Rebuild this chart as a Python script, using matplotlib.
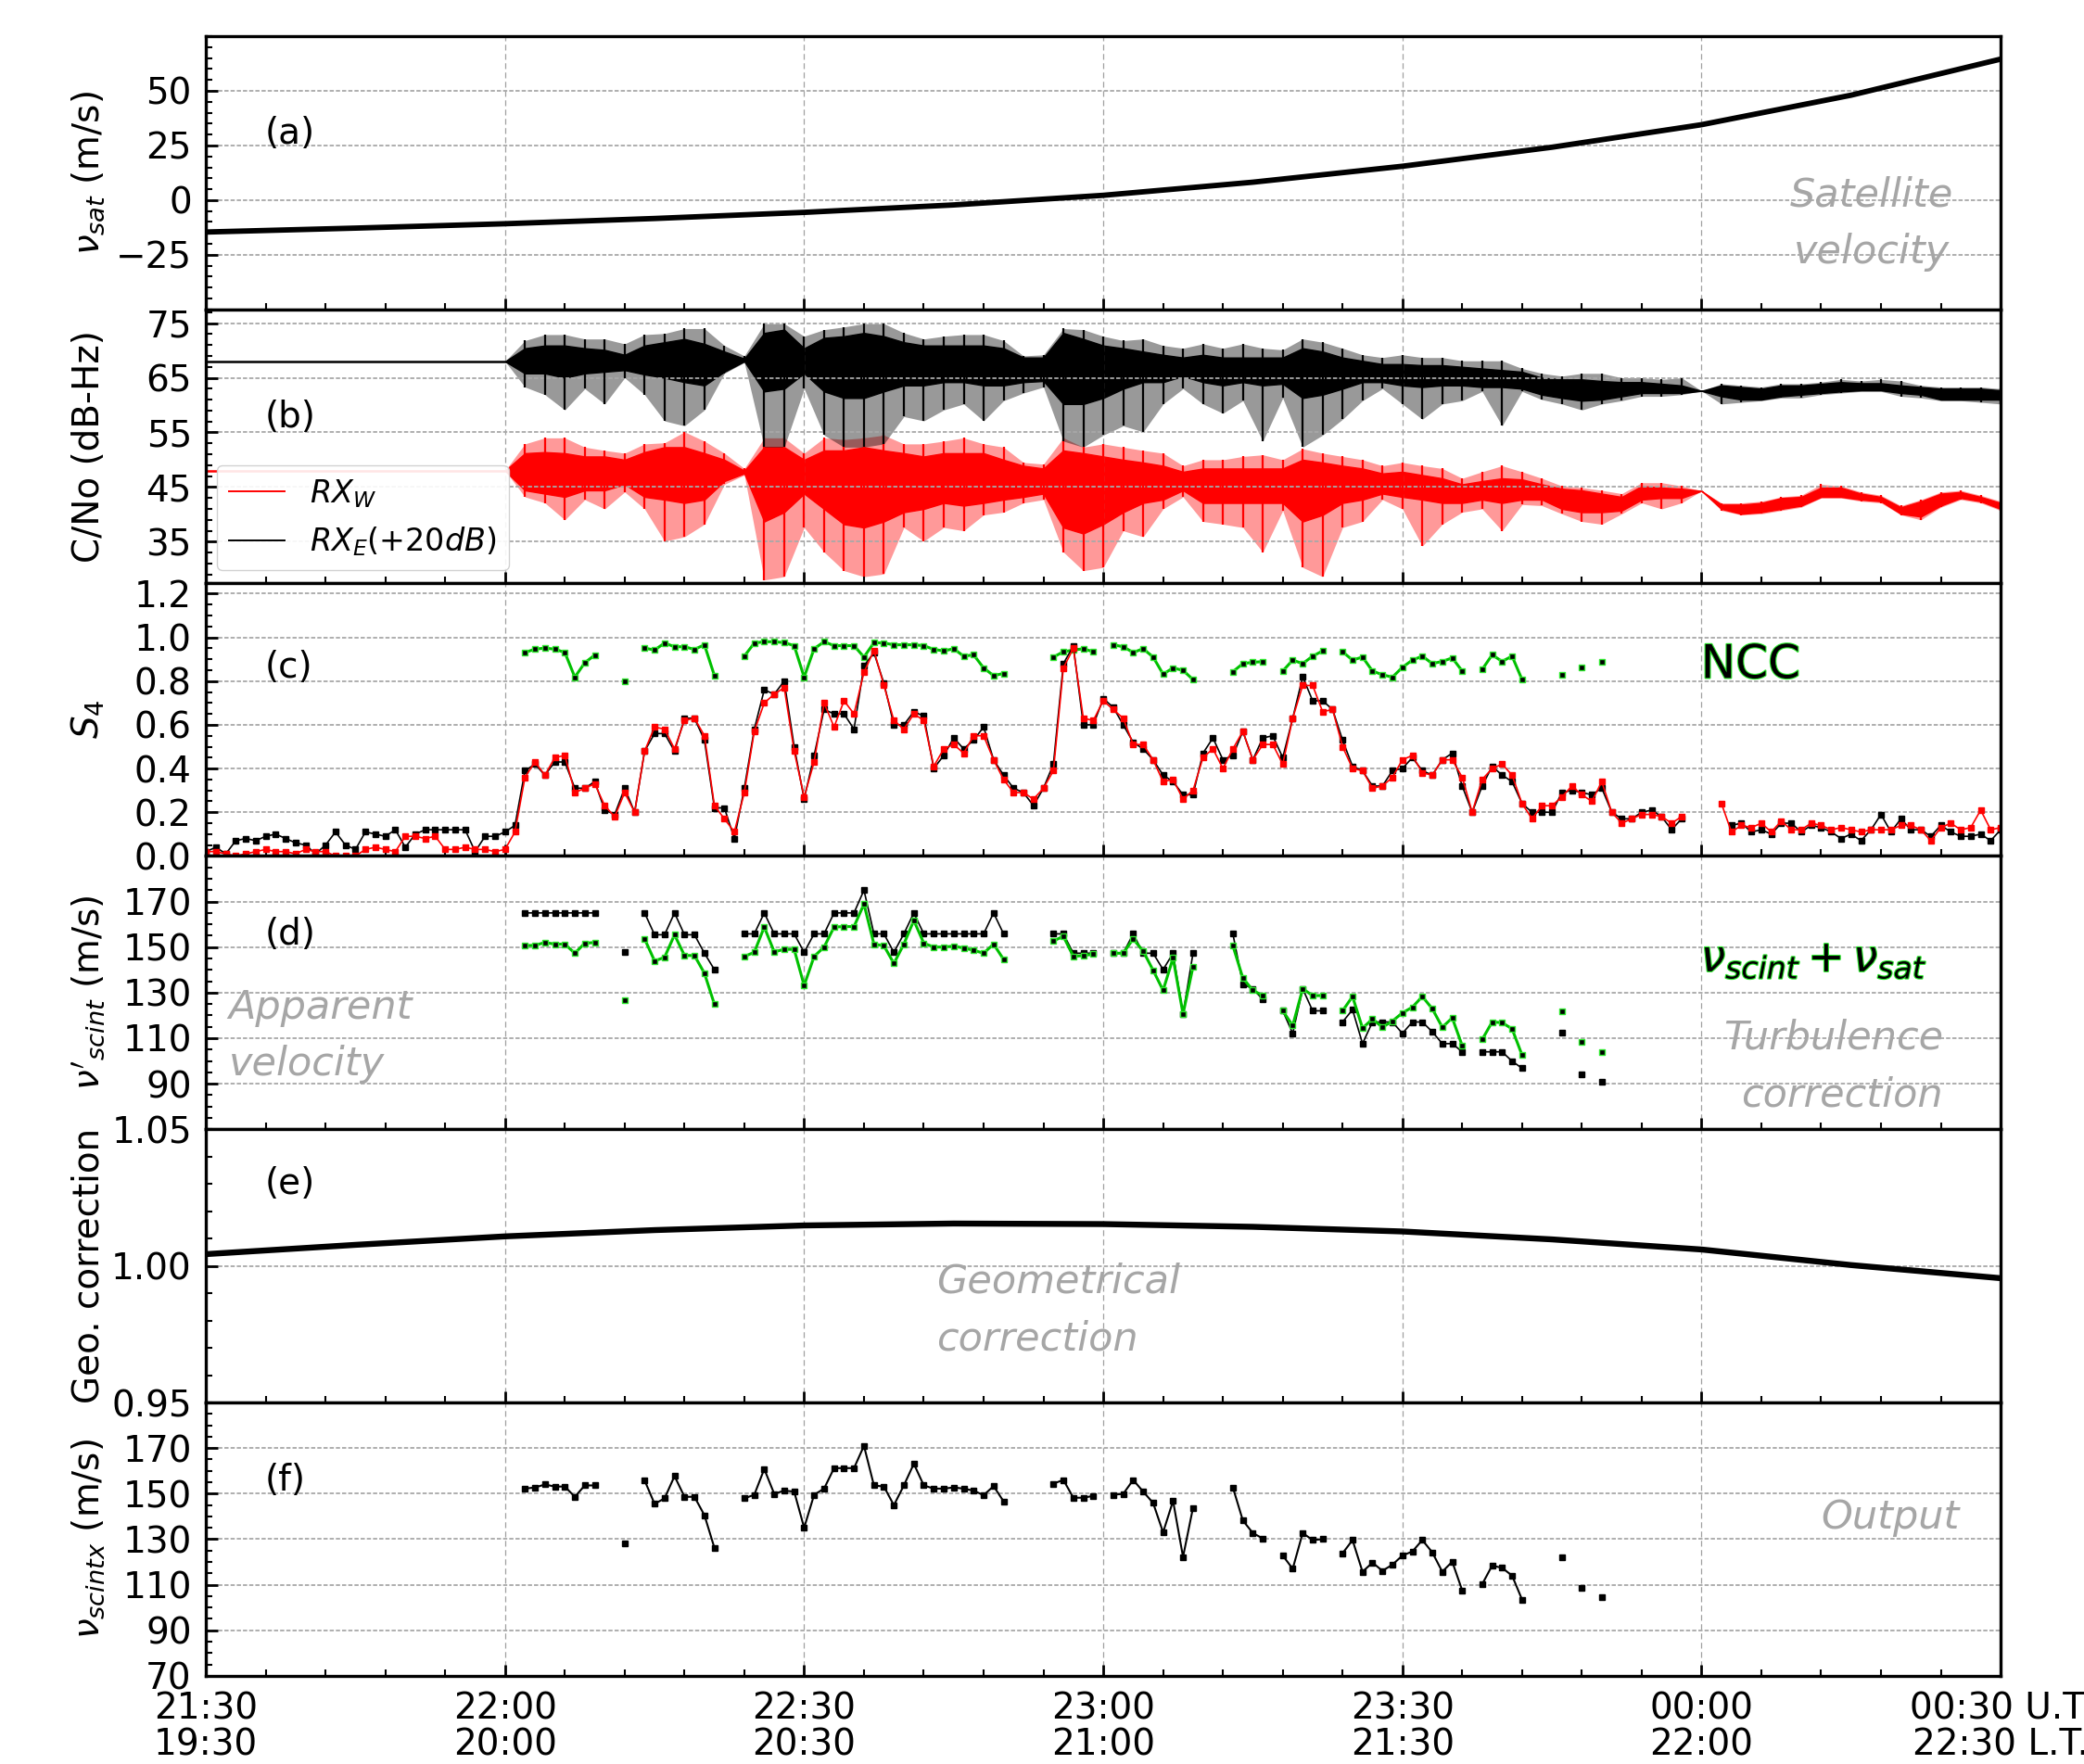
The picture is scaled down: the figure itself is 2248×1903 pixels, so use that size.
import numpy as np
import matplotlib
matplotlib.use("Agg")
import matplotlib.pyplot as plt
from matplotlib.ticker import MultipleLocator, AutoMinorLocator, FormatStrFormatter
import matplotlib.patheffects as pe

nan = np.nan

# ---------------- data (time = minutes after 21:30 UT) ----------------
xtick_labels = ['21:30\n19:30', '22:00\n20:00', '22:30\n20:30', '23:00\n21:00',
                '23:30\n21:30', '00:00\n22:00', '00:30 U.T.\n22:30 L.T.']

# (a) satellite velocity
vsat_t = [0, 15, 30, 45, 60, 75, 90, 105, 120, 135, 150, 165, 180]
vsat = [-14.6, -12.8, -10.8, -8.4, -5.6, -2.2, 2.2, 8.2, 15.5, 24.2, 34.5, 48.0, 64.5]

# (b) C/No envelopes, sampled every 2 min from 30 to 180
cn_t = np.arange(30, 181, 2)
quiet_t = [0, 30]
quiet_E = [68.0, 68.0]
quiet_W = [48.0, 48.0]
E_hi = [68.0, 71.8, 72.9, 72.9, 72.1, 72.1, 71.2, 72.9, 73.1, 74.0, 74.0, 70.9, 69.0, 74.9, 74.9, 72.6,
        73.8, 74.3, 74.9, 74.9, 73.2, 72.1, 72.6, 72.9, 72.9, 71.8, 69.0, 69.2, 74.0, 73.8, 72.6, 71.8,
        72.1, 70.9, 70.4, 71.2, 70.4, 71.2, 70.4, 70.1, 72.1, 71.5, 70.4, 69.2, 68.7, 69.2, 68.7, 68.7,
        68.1, 68.1, 68.1, 66.7, 65.8, 65.3, 65.8, 65.8, 65.0, 65.0, 64.7, 65.0, 62.6,
        63.9, 63.6, 63.3, 63.9, 63.9, 64.2, 64.7, 64.4, 64.7, 64.4, 63.6, 63.3, 63.3, 63.3, 63.0]
E_chi = [68.0, 70.4, 70.9, 70.9, 70.4, 70.1, 69.2, 70.9, 71.5, 72.1, 71.2, 69.8, 68.5, 73.2, 73.8, 70.4,
         72.3, 72.6, 73.2, 72.6, 71.5, 70.9, 70.9, 70.9, 70.9, 70.4, 68.7, 68.7, 73.2, 72.1, 70.9, 70.4,
         69.8, 69.2, 68.7, 69.2, 68.7, 68.7, 68.7, 68.7, 70.4, 69.8, 68.7, 68.1, 67.5, 67.5, 67.3, 67.3,
         67.0, 66.7, 66.4, 66.1, 65.0, 64.7, 64.7, 64.4, 64.2, 64.2, 63.9, 63.6, 62.6,
         63.6, 63.3, 63.0, 63.6, 63.6, 63.9, 64.2, 64.0, 64.0, 63.6, 63.3, 63.0, 63.0, 63.0, 62.7]
E_clo = [68.0, 65.8, 65.8, 65.0, 65.8, 66.1, 66.4, 65.6, 65.0, 64.2, 63.6, 66.1, 68.0, 62.5, 63.0, 65.8,
         62.5, 61.3, 61.3, 62.5, 63.6, 63.6, 64.2, 64.2, 63.6, 63.6, 64.2, 64.4, 60.2, 60.2, 61.3, 63.0,
         64.2, 64.2, 65.3, 64.2, 63.6, 64.2, 63.6, 63.9, 61.3, 61.9, 63.0, 64.2, 64.2, 63.6, 63.3, 63.6,
         63.6, 63.3, 63.3, 63.0, 61.9, 61.3, 60.8, 61.0, 61.6, 62.2, 62.2, 62.2, 62.6,
         61.6, 61.0, 61.0, 61.6, 61.9, 62.2, 62.5, 62.7, 62.7, 62.2, 61.9, 61.0, 61.0, 61.0, 61.0]
E_lo = [68.0, 63.3, 61.9, 59.1, 63.0, 60.2, 65.0, 61.9, 57.1, 56.2, 59.1, 65.8, 67.8, 52.3, 52.3, 63.0,
        54.5, 52.3, 52.3, 52.9, 57.9, 57.1, 59.1, 60.2, 57.1, 60.8, 62.2, 63.3, 53.4, 52.3, 54.5, 56.2,
        55.1, 60.2, 63.0, 60.2, 58.5, 60.8, 53.4, 61.3, 52.3, 54.5, 57.4, 60.8, 63.0, 60.2, 57.4, 60.2,
        60.8, 62.5, 56.2, 62.5, 61.0, 60.2, 59.1, 60.2, 60.8, 61.6, 61.6, 61.9, 62.6,
        60.2, 60.5, 60.8, 61.3, 61.3, 61.9, 62.2, 62.5, 62.5, 61.6, 61.3, 60.8, 60.8, 60.5, 60.2]
W_hi = [48.0, 52.9, 54.0, 54.0, 52.3, 51.7, 51.2, 52.9, 53.1, 55.1, 53.4, 51.2, 48.4, 54.0, 54.0, 51.2,
        54.0, 53.7, 54.0, 54.5, 52.9, 52.9, 53.4, 54.0, 52.9, 52.3, 49.5, 49.2, 54.0, 52.3, 52.9, 52.3,
        51.7, 51.2, 48.9, 50.0, 50.0, 50.6, 50.9, 50.0, 52.0, 51.2, 50.6, 50.0, 48.9, 49.5, 48.9, 48.4,
        46.6, 47.8, 48.9, 47.8, 46.6, 45.2, 44.9, 44.4, 43.8, 45.8, 45.8, 45.2, 44.3,
        42.1, 42.1, 42.4, 43.2, 43.5, 45.5, 45.2, 44.1, 43.5, 41.6, 42.7, 44.1, 44.4, 43.5, 42.4]
W_chi = [48.0, 51.2, 51.4, 51.2, 50.6, 50.6, 50.0, 51.4, 52.3, 52.3, 51.2, 50.0, 48.0, 52.3, 52.3, 50.0,
         51.7, 51.7, 52.3, 51.7, 51.2, 50.6, 51.2, 51.2, 51.2, 50.0, 48.9, 48.4, 51.7, 51.2, 50.6, 50.0,
         49.5, 48.9, 47.8, 48.4, 48.4, 48.4, 48.4, 48.4, 50.0, 49.5, 48.9, 48.4, 47.5, 47.8, 47.2, 46.6,
         45.5, 46.1, 46.6, 46.4, 45.5, 44.7, 44.4, 43.8, 43.2, 45.2, 44.9, 44.7, 44.3,
         41.8, 41.8, 42.1, 43.0, 43.2, 44.9, 44.9, 43.8, 43.2, 41.3, 42.4, 43.8, 44.1, 43.2, 42.1]
W_clo = [48.0, 44.4, 43.8, 43.2, 44.4, 44.4, 45.5, 43.2, 42.7, 42.1, 42.7, 46.1, 47.5, 38.7, 40.4, 43.8,
         41.0, 38.2, 37.6, 38.7, 40.4, 41.0, 42.1, 41.6, 42.1, 42.7, 43.2, 43.8, 37.6, 36.5, 38.2, 40.4,
         42.1, 42.7, 44.4, 42.1, 42.1, 42.1, 42.1, 42.1, 38.7, 39.9, 42.1, 42.7, 43.8, 43.2, 42.7, 42.1,
         42.1, 42.7, 42.1, 42.7, 42.7, 41.0, 40.4, 40.4, 40.7, 42.7, 43.0, 43.0, 44.3,
         41.0, 40.1, 40.4, 41.0, 41.6, 43.2, 43.2, 42.7, 42.4, 40.1, 39.6, 41.6, 43.0, 42.4, 41.0]
W_lo = [48.0, 43.2, 42.1, 39.0, 42.7, 41.0, 44.1, 41.0, 35.1, 35.9, 38.2, 45.5, 47.2, 28.0, 28.6, 37.6,
        33.1, 29.7, 28.6, 29.1, 37.6, 35.1, 37.6, 37.0, 39.9, 40.4, 42.1, 42.7, 33.1, 29.7, 30.3, 37.0,
        35.9, 41.0, 43.2, 38.7, 38.2, 37.6, 33.1, 40.7, 30.3, 28.6, 37.6, 38.7, 42.7, 41.0, 34.2, 38.2,
        40.4, 41.0, 37.0, 41.8, 41.6, 40.1, 38.7, 38.2, 40.1, 42.1, 41.0, 42.1, 44.3,
        40.7, 39.9, 40.1, 40.7, 41.3, 43.0, 43.0, 42.4, 42.1, 39.9, 39.0, 41.3, 42.7, 42.1, 40.7]

# (c) S4 every minute, 0..180
s4_t = np.arange(0, 181)
s4_E = [0.02, 0.04, 0.01, 0.07, 0.08, 0.07, 0.09, 0.10, 0.08, 0.06, 0.05, 0.01, 0.05, 0.11, 0.05, 0.03,
        0.11, 0.10, 0.09, 0.12, 0.04, 0.10, 0.12, 0.12, 0.12, 0.12, 0.12, 0.02, 0.09, 0.09, 0.11, 0.14,
        0.39, 0.42, 0.37, 0.43, 0.43, 0.31, 0.31, 0.34, 0.21, 0.19, 0.31, 0.20, 0.48, 0.56, 0.56, 0.48,
        0.63, 0.63, 0.53, 0.22, 0.22, 0.08, 0.31, 0.58, 0.76, 0.74, 0.80, 0.50, 0.26, 0.46,
        0.67, 0.65, 0.65, 0.58, 0.87, 0.93, 0.79, 0.60, 0.60, 0.66, 0.64, 0.40, 0.46, 0.54, 0.49, 0.53,
        0.59, 0.44, 0.37, 0.31, 0.29, 0.23, 0.31, 0.42, 0.88, 0.96, 0.60, 0.60, 0.72,
        0.68, 0.60, 0.52, 0.49, 0.44, 0.37, 0.34, 0.28, 0.28, 0.47, 0.54, 0.44, 0.46, 0.57, 0.44, 0.54,
        0.55, 0.45, 0.63, 0.82, 0.71, 0.71, 0.67, 0.53, 0.41, 0.39, 0.32, 0.32, 0.39, 0.40, 0.45, 0.39,
        0.37, 0.44, 0.47, 0.32, 0.20, 0.32, 0.41, 0.37, 0.34, 0.24, 0.20, 0.20, 0.20, 0.29, 0.30, 0.29,
        0.28, 0.31, 0.20, 0.17, 0.17, 0.20, 0.21, 0.18, 0.12, 0.17,
        nan, nan, nan, nan,
        0.14, 0.15, 0.11, 0.12, 0.10, 0.15, 0.15, 0.11, 0.14, 0.13, 0.11, 0.08, 0.10, 0.07, 0.12, 0.19,
        0.11, 0.17, 0.12, 0.12, 0.09, 0.14, 0.11, 0.09, 0.09, 0.10, 0.07, 0.12]
s4_W = [0.02, 0.02, 0.01, 0.00, 0.01, 0.02, 0.03, 0.02, 0.02, 0.01, 0.03, 0.02, 0.02, 0.00, 0.00, 0.00,
        0.03, 0.04, 0.03, 0.02, 0.09, 0.09, 0.08, 0.09, 0.03, 0.03, 0.04, 0.03, 0.03, 0.02, 0.03, 0.11,
        0.36, 0.43, 0.37, 0.45, 0.46, 0.29, 0.31, 0.33, 0.23, 0.18, 0.29, 0.20, 0.48, 0.59, 0.58, 0.49,
        0.62, 0.63, 0.55, 0.23, 0.17, 0.11, 0.29, 0.57, 0.70, 0.74, 0.77, 0.48, 0.27, 0.43,
        0.70, 0.59, 0.71, 0.65, 0.84, 0.94, 0.78, 0.62, 0.58, 0.65, 0.62, 0.41, 0.49, 0.51, 0.47, 0.55,
        0.55, 0.44, 0.35, 0.29, 0.29, 0.26, 0.31, 0.39, 0.86, 0.95, 0.63, 0.62, 0.71,
        0.67, 0.63, 0.51, 0.51, 0.44, 0.34, 0.35, 0.26, 0.30, 0.45, 0.49, 0.40, 0.49, 0.57, 0.44, 0.51,
        0.51, 0.42, 0.63, 0.78, 0.78, 0.66, 0.67, 0.50, 0.40, 0.39, 0.31, 0.32, 0.36, 0.44, 0.46, 0.38,
        0.37, 0.44, 0.44, 0.36, 0.20, 0.35, 0.40, 0.42, 0.37, 0.24, 0.17, 0.23, 0.23, 0.27, 0.32, 0.28,
        0.25, 0.34, 0.20, 0.15, 0.17, 0.19, 0.19, 0.18, 0.15, 0.18,
        nan, nan, nan, 0.24,
        0.11, 0.14, 0.13, 0.15, 0.11, 0.16, 0.12, 0.12, 0.15, 0.14, 0.12, 0.13, 0.12, 0.11, 0.12, 0.12,
        0.12, 0.14, 0.14, 0.12, 0.07, 0.13, 0.15, 0.12, 0.13, 0.21, 0.12, 0.13]

# (c)-(f) per-minute values from 32 to 140 min
v_t = np.arange(32, 141)
ncc = [0.931, 0.946, 0.951, 0.946, 0.931, 0.818, 0.884, 0.919,
       nan, nan, 0.80, nan,
       0.951, 0.942, 0.974, 0.957, 0.957, 0.945, 0.966, 0.825,
       nan, nan,
       0.914, 0.974, 0.98, 0.98, 0.976, 0.962, 0.818, 0.948, 0.98, 0.962, 0.962, 0.962, 0.91, 0.976,
       0.974, 0.966, 0.966, 0.966, 0.962, 0.945, 0.938, 0.948, 0.914, 0.92, 0.86, 0.825, 0.835,
       nan, nan, nan, nan,
       0.91, 0.934, 0.942, 0.948, 0.934,
       nan,
       0.966, 0.957, 0.931, 0.948, 0.91, 0.832, 0.86, 0.849, 0.807,
       nan, nan, nan,
       0.843, 0.88, 0.886, 0.889,
       nan,
       0.846, 0.896, 0.88, 0.914, 0.938,
       nan,
       0.934, 0.896, 0.91, 0.846, 0.829, 0.818, 0.863, 0.896, 0.914, 0.88, 0.89, 0.906, 0.846,
       nan,
       0.853, 0.92, 0.89, 0.914, 0.807,
       nan, nan, nan,
       0.829, nan, 0.863, nan, 0.889]
v_app = [165, 165, 165, 165, 165, 165, 165, 165,
         nan, nan, 147.7, nan,
         165, 155.4, 155.4, 165, 155.4, 155.4, 147.3, 140.1,
         nan, nan,
         155.8, 155.8, 165, 155.8, 155.8, 155.8, 147.7, 155.8, 155.8, 165, 165, 165, 175, 155.8,
         155.8, 147.7, 155.8, 165, 155.8, 155.8, 155.8, 155.8, 155.8, 155.8, 155.8, 165, 155.8,
         nan, nan, nan, nan,
         155.8, 155.8, 147.3, 147.3, 147.3,
         nan,
         147.3, 147.3, 155.8, 147.3, 147.3, 140.1, 147.3, 120.6, 147.3,
         nan, nan, nan,
         155.8, 133.7, 131.7, 127.0,
         nan,
         122, 112.1, 131.7, 122, 122,
         nan,
         117.1, 122.5, 107.6, 117.1, 117.1, 117.1, 112.1, 117.1, 117.1, 112.8, 107.6, 107.6, 104,
         nan,
         104, 104, 104, 99.9, 96.8,
         nan, nan, nan,
         112.5, nan, 94.1, nan, 90.8]
v_corr = [150.6, 150.8, 152, 151.3, 151.3, 147.3, 151.7, 152,
          nan, nan, 126.6, nan,
          153.6, 143.9, 145.5, 155.4, 146.3, 146.3, 138.5, 124.9,
          nan, nan,
          145.9, 147.7, 158.8, 147.9, 149, 149, 133.1, 145.9, 150, 158.8, 159, 159, 168.9, 151.3,
          150.6, 142.8, 151.3, 161.7, 151.7, 150, 150, 150.4, 149.6, 148.6, 147.3, 151.3, 144.6,
          nan, nan, nan, nan,
          152.7, 154.7, 145.9, 146.3, 146.9,
          nan,
          147.3, 147.3, 153.6, 148.2, 139.8, 131.0, 145.2, 120.6, 141.4,
          nan, nan, nan,
          150.6, 136.4, 131.0, 128.7,
          nan,
          122, 115.5, 131.7, 128.7, 128.7,
          nan,
          122, 128.3, 114.4, 118.4, 114.8, 117.5, 121.1, 123.6, 128.3, 122.9, 114.8, 118.9, 106.7,
          nan,
          109.4, 117.1, 116.8, 114.1, 102.6,
          nan, nan, nan,
          121.6, nan, 108.4, nan, 104]
v_out = [152.2, 152.7, 154, 153.1, 153.1, 148.6, 153.6, 153.6,
         nan, nan, 128.3, nan,
         155.8, 145.5, 147.9, 157.7, 148.6, 148.6, 140.5, 126.2,
         nan, nan,
         147.9, 149.5, 160.8, 149.9, 151.3, 150.9, 135, 149.5, 152.2, 161.2, 161.2, 161.2, 171, 153.6,
         153.1, 144.9, 153.6, 163.1, 153.6, 152.2, 152.2, 152.7, 152.2, 151.3, 149.3, 153.3, 146.6,
         nan, nan, nan, nan,
         154.4, 156, 148.2, 148.2, 149,
         nan,
         149.5, 149.9, 156, 150.9, 145.9, 133, 146.8, 122.2, 143.8,
         nan, nan, nan,
         152.7, 138.2, 132.7, 130.3,
         nan,
         122.8, 117, 132.7, 129.6, 130,
         nan,
         123.8, 129.6, 115.7, 119.7, 116.1, 118.8, 122.8, 124.6, 129.6, 124.2, 115.7, 120.1, 107.5,
         nan,
         110.2, 118.4, 117.4, 114, 103.5,
         nan, nan, nan,
         122.2, nan, 108.6, nan, 104.6]

# (e) geometrical correction
geo_t = [0, 15, 30, 45, 60, 75, 90, 105, 120, 135, 150, 165, 180]
geo = [1.0043, 1.0077, 1.0108, 1.0131, 1.0148, 1.0155, 1.0153, 1.0143, 1.0126, 1.0097, 1.0060,
       1.0003, 0.9955]

# ---------------- figure ----------------
plt.rcParams['font.family'] = ['DejaVu Sans']
plt.rcParams['mathtext.fontset'] = 'dejavusans'
FS = 28
GRAY = '#a6a6a6'
GREEN = '#00c000'
GEDGE = '#2ee82e'
ANN = 31
LS = 1.6

fig, axes = plt.subplots(6, 1, sharex=True, figsize=(22.48, 19.03), dpi=100)
fig.subplots_adjust(left=0.0988, right=0.96, top=0.9795, bottom=0.05, hspace=0)
axA, axB, axC, axD, axE, axF = axes

for ax in axes:
    ax.set_xlim(0, 180)
    ax.xaxis.set_major_locator(MultipleLocator(30))
    ax.xaxis.set_minor_locator(MultipleLocator(6))
    ax.yaxis.set_minor_locator(AutoMinorLocator())
    ax.tick_params(which='major', direction='in', length=9, width=2, labelsize=FS,
                   top=False, right=False)
    ax.tick_params(which='minor', direction='in', length=5, width=1.5, top=False, right=False)
    ax.tick_params(axis='y', which='major', pad=11)
    ax.grid(True, axis='x', which='major', ls=(0, (5, 3)), lw=0.9, color='#a0a0a0')
    ax.grid(True, axis='y', which='major', ls=(0, (2.5, 1.2)), lw=1.3, color='#a8a8a8')
    for s in ax.spines.values():
        s.set_linewidth(2.4)

# (a)
axA.plot(vsat_t, vsat, color='k', lw=4.2, solid_capstyle='butt')
axA.set_ylim(-50, 75)
axA.set_yticks([-25, 0, 25, 50])
axA.set_ylabel(r'$\nu_{sat}$ (m/s)', fontsize=FS)

# (b)
axB.plot(quiet_t, quiet_W, color='red', lw=1.8)
axB.fill_between(cn_t, W_lo, W_hi, color='red', alpha=0.4, lw=0)
axB.vlines(cn_t, W_lo, W_hi, color='red', lw=1.6)
axB.fill_between(cn_t, W_clo, W_chi, color='red', lw=1.0)
axB.plot(quiet_t, quiet_E, color='k', lw=1.8)
axB.fill_between(cn_t, E_lo, E_hi, color='k', alpha=0.4, lw=0)
axB.vlines(cn_t, E_lo, E_hi, color='k', lw=1.6)
axB.fill_between(cn_t, E_clo, E_chi, color='k', lw=1.0)
hW, = axB.plot([], [], color='red', lw=1.4, label=r'$\mathit{RX_W}$')
hE, = axB.plot([], [], color='k', lw=1.4, label=r'$\mathit{RX_E(+20dB)}$')
axB.legend(handles=[hW, hE], loc='lower left', bbox_to_anchor=(0.006, 0.045), borderaxespad=0,
           fontsize=24, handlelength=1.8, framealpha=0.9, edgecolor='#cccccc', fancybox=True)
axB.set_ylim(27.5, 77.5)
axB.set_yticks([35, 45, 55, 65, 75])
axB.set_ylabel('C/No (dB-Hz)', fontsize=FS)

# (c)
axC.plot(v_t, ncc, '-s', color=GREEN, lw=2.2, ms=5, mfc='k', mec=GEDGE, mew=1.0)
axC.plot(s4_t, s4_E, '-s', color='k', lw=1.2, ms=5, mec='k')
axC.plot(s4_t, s4_W, '-s', color='red', lw=1.2, ms=5, mec='red')
axC.set_ylim(0, 1.25)
axC.set_yticks([0, 0.2, 0.4, 0.6, 0.8, 1.0, 1.2])
axC.yaxis.set_major_formatter(FormatStrFormatter('%.1f'))
axC.set_ylabel(r'$S_4$', fontsize=FS)

# (d)
axD.plot(v_t, v_app, '-s', color='k', lw=1.2, ms=5, mec='k')
axD.plot(v_t, v_corr, '-s', color=GREEN, lw=2.2, ms=5, mfc='k', mec=GEDGE, mew=1.0)
axD.set_ylim(70, 190)
axD.set_yticks([90, 110, 130, 150, 170])
axD.set_ylabel(r"$\nu'_{scint}$ (m/s)", fontsize=FS)

# (e)
axE.plot(geo_t, geo, color='k', lw=4.6, solid_capstyle='butt')
axE.set_ylim(0.95, 1.05)
axE.set_yticks([0.95, 1.00, 1.05])
axE.yaxis.set_major_formatter(FormatStrFormatter('%.2f'))
axE.set_ylabel('Geo. correction', fontsize=FS)

# (f)
axF.plot(v_t, v_out, '-s', color='k', lw=1.5, ms=5, mec='k')
axF.set_ylim(70, 190)
axF.set_yticks([70, 90, 110, 130, 150, 170])
axF.set_ylabel(r'$\nu_{scintx}$ (m/s)', fontsize=FS)
axF.set_xticks(np.arange(0, 181, 30))
axF.set_xticklabels(xtick_labels)
axF.tick_params(axis='x', which='major', pad=12)
for lbl in axF.get_xticklabels():
    lbl.set_linespacing(1.04)

# panel letters
panel_pos = [0.644, 0.607, 0.69, 0.714, 0.80, 0.714]
for ax, letter, yp in zip(axes, 'abcdef', panel_pos):
    ax.text(0.033, yp, '(%s)' % letter, transform=ax.transAxes, fontsize=FS, va='center', ha='left')

# annotations
axA.text(0.928, 0.315, 'Satellite\nvelocity', transform=axA.transAxes, color=GRAY,
         fontsize=ANN, style='italic', ha='center', va='center', multialignment='center',
         linespacing=LS)
axC.text(0.833, 0.699, 'NCC', transform=axC.transAxes, fontsize=36, ha='left', va='center',
         color='k', path_effects=[pe.withStroke(linewidth=1.6, foreground=GEDGE)])
axD.text(0.833, 0.62, r'$\nu_{scint}+\nu_{sat}$', transform=axD.transAxes, fontsize=34,
         ha='left', va='center', color='k',
         path_effects=[pe.withStroke(linewidth=1.6, foreground=GEDGE)])
axD.text(0.0126, 0.342, 'Apparent\nvelocity', transform=axD.transAxes, color=GRAY,
         fontsize=ANN, style='italic', ha='left', va='center', multialignment='left',
         linespacing=LS)
axD.text(0.968, 0.23, 'Turbulence\ncorrection', transform=axD.transAxes, color=GRAY,
         fontsize=ANN, style='italic', ha='right', va='center', multialignment='right',
         linespacing=LS)
axE.text(0.407, 0.339, 'Geometrical\ncorrection', transform=axE.transAxes, color=GRAY,
         fontsize=ANN, style='italic', ha='left', va='center', multialignment='left',
         linespacing=LS)
axF.text(0.9385, 0.578, 'Output', transform=axF.transAxes, color=GRAY,
         fontsize=ANN, style='italic', ha='center', va='center')

fig.align_ylabels(axes)
fig.savefig('out.png', dpi=100)
